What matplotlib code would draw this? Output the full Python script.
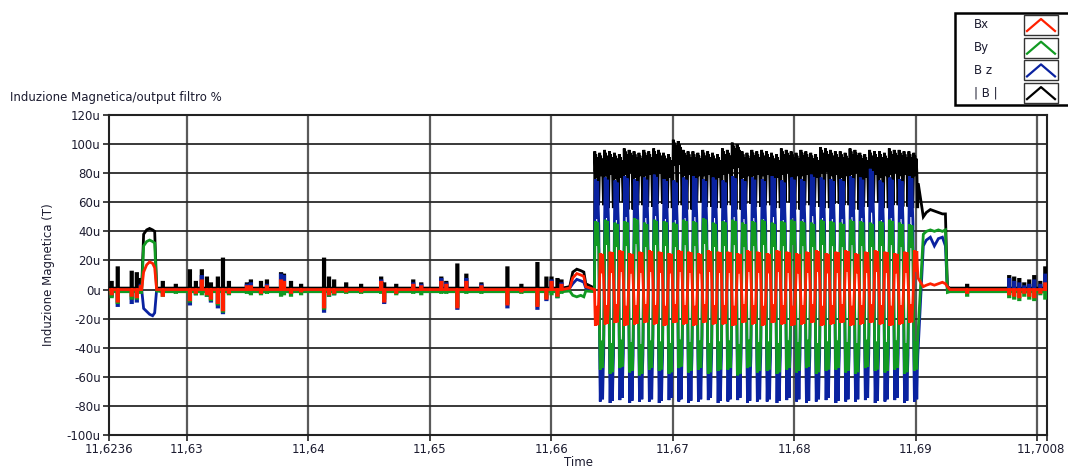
import numpy as np
import matplotlib
matplotlib.use("Agg")
import matplotlib.pyplot as plt
from matplotlib.patches import Rectangle
from matplotlib.ticker import FixedLocator, FuncFormatter
from matplotlib.transforms import ScaledTranslation

# ---- data (values in micro tesla, time in seconds) ----
t_start, t_end = 11.6236, 11.7008

# quiet part: short spikes (time, |B|, Bx, By, Bz)
spike_t = [11.62376, 11.62426, 11.62541, 11.62583, 11.62616, 11.62797, 11.62904,
           11.63020, 11.63069, 11.63118, 11.63160, 11.63193, 11.63250, 11.63292,
           11.63341, 11.63489, 11.63522, 11.63605, 11.63654, 11.63770, 11.63794,
           11.63852, 11.63935, 11.64124, 11.64165, 11.64207, 11.64306, 11.64429,
           11.64594, 11.64619, 11.64718, 11.64858, 11.64924, 11.65089, 11.65130,
           11.65221, 11.65295, 11.65419, 11.65633, 11.65748, 11.65880, 11.65954,
           11.65996, 11.66045, 11.66078,
           11.69417, 11.69763, 11.69804, 11.69846, 11.69887, 11.69928, 11.69969,
           11.70019, 11.70060]
spike_b = [5, 15, 12, 11, 7, 5, 3, 13, 5, 13, 8, 4, 8, 21, 5, 4, 6, 5, 6, 11, 10,
           5, 3, 21, 8, 6, 4, 3, 8, 4, 3, 6, 4, 8, 5, 17, 10, 4, 15, 3, 18, 8, 8, 7, 6,
           3, 9, 8, 7, 4, 6, 9, 5, 15]
spike_bx = [-3, -8, -4, -5, 2, -4, 0, -7, -2, 6, -3, -6, -9, -14, -2, 2, 2, -2, 2, 6, 5,
            -2, -1, -12, -3, -2, -1, -1, 5, -8, -2, 3, 2, 5, 3, -12, 5, 2, -10, -1, -11, -6, 5, -4, 3,
            -2, -3, -4, -5, -2, -4, -5, -2, 4]
spike_by = [-5, -9, -6, -6, -2, -4, -2, -8, -3, -3, -4, -7, -10, -15, -3, -2, -3, -3, -2, -4, -3,
            -4, -3, -13, -4, -3, -2, -2, -2, -6, -3, -2, -3, -2, -2, -11, -2, -2, -9, -2, -10, -5, -3, -5, -2,
            -4, -5, -6, -7, -4, -6, -7, -3, -6]
spike_bz = [-4, -11, -9, -8, 3, -2, 0, -10, -3, 9, -4, -8, -12, -16, -2, 3, 4, -2, 3, 10, 9,
            -2, -1, -15, -4, -3, -1, -1, 6, -9, -2, 4, 3, 7, 4, -13, 7, 3, -12, -1, -13, -7, 6, -5, 4,
            -1, 7, 5, 4, 2, 3, 6, 3, 10]

# first pulse around 11.6266
ev1_t = [11.62629, 11.62645, 11.62670, 11.62694, 11.62719, 11.62736, 11.62752]
ev1_b = [1, 38, 41, 42, 41, 40, 1]
ev1_bx = [0, 12, 17, 19, 18, 15, 0]
ev1_by = [-1, 30, 33, 34, 33, 32, -1]
ev1_bz = [0, -13, -15, -17, -18, -16, 0]

# small bump before the oscillation
ev2_t = [11.66152, 11.66177, 11.66210, 11.66243, 11.66268, 11.66284]
ev2_b = [2, 12, 14, 13, 12, 4]
ev2_bx = [1, 8, 11, 10, 9, 2]
ev2_by = [-1, -4, -5, -4, -5, -1]
ev2_bz = [1, 4, 7, 6, 5, 1]

# oscillating part: extremes of every cycle
osc_t0 = 11.66358
osc_period = 0.000808
bz_hi = [76, 77, 75, 78, 76, 77, 79, 76, 75, 77, 78, 76, 77, 75, 78, 76, 77,
         76, 78, 75, 77, 76, 79, 77, 76, 76, 78, 77, 83, 75, 77, 76, 78]
bz_lo = [-77, -78, -76, -78, -77, -77, -78, -76, -77, -78, -77, -76, -78, -77, -76, -78, -77,
         -77, -78, -76, -77, -78, -77, -76, -78, -77, -77, -76, -78, -77, -76, -78, -77]
by_hi = [47, 48, 46, 47, 49, 46, 48, 47, 46, 48, 47, 49, 46, 47, 48, 46, 47,
         48, 46, 47, 48, 47, 46, 48, 47, 46, 48, 47, 46, 47, 48, 46, 45]
by_lo = [-55, -58, -54, -57, -59, -55, -56, -58, -54, -57, -55, -58, -56, -55, -59, -54, -57,
         -56, -58, -55, -57, -54, -58, -56, -55, -57, -58, -54, -56, -57, -55, -58, -56]
bx_hi = [25, 26, 27, 25, 26, 27, 26, 25, 27, 26, 25, 27, 26, 26, 25, 27, 26,
         25, 27, 26, 25, 26, 27, 25, 26, 27, 25, 26, 27, 26, 25, 26, 27]
bx_lo = [-25, -24, -23, -25, -24, -23, -24, -25, -23, -24, -25, -23, -24, -24, -25, -23, -24,
         -25, -23, -24, -25, -24, -23, -25, -24, -23, -25, -24, -23, -24, -25, -24, -23]
b_hi = [95, 96, 94, 97, 95, 96, 97, 94, 103, 96, 95, 96, 94, 97, 101, 95, 96,
        96, 94, 97, 95, 96, 94, 98, 96, 95, 97, 94, 96, 95, 97, 96, 95]
b_lo = [58, 56, 60, 55, 58, 57, 59, 56, 58, 55, 60, 57, 56, 58, 55, 59, 57,
        58, 56, 60, 55, 58, 57, 56, 59, 58, 55, 57, 60, 56, 58, 57, 56]

# pulse after the oscillation
ev3_t = [11.69062, 11.69087, 11.69120, 11.69153, 11.69186, 11.69219, 11.69244, 11.69260]
ev3_b = [50, 53, 55, 54, 53, 52, 52, 2]
ev3_bx = [2, 3, 4, 3, 4, 5, 4, 2]
ev3_by = [38, 40, 41, 40, 41, 40, 41, -2]
ev3_bz = [30, 34, 36, 30, 35, 36, 30, -1]

base_b, base_bx, base_by, base_bz = 1, 0, -1.5, -0.5

# ---- helpers to assemble the traces ----
spike_w = 0.00012
half_frac = [0.0, 0.06, 0.12, 0.18, 0.24, 0.30, 0.36, 0.41]
half_shape = [0.6, 1.0, 0.7, 0.96, 0.64, 0.98, 0.72, 0.58]
red_shape = [0.35, 1.0, 0.55, 0.95, 0.45, 0.98, 0.6, 0.3]
mag_frac = [0.0, 0.05, 0.1, 0.16, 0.24, 0.31, 0.39, 0.45, 0.5, 0.55,
            0.6, 0.66, 0.74, 0.81, 0.89, 0.95]
mag_drop = [0, 14, 2, 18, 4, 16, None, 20, 1, 12, 3, 17, 5, 15, None, 22]


def quiet(t0, t1, base, amps, events):
    pts = [(t0, base)]
    for t, a in zip(spike_t, amps):
        if t0 <= t < t1:
            pts += [(t, base), (t, a), (t + spike_w, a), (t + spike_w, base)]
    for et, ev in events:
        if t0 <= et[0] < t1:
            pts += list(zip(et, ev))
    pts.sort(key=lambda p: p[0])
    pts.append((t1, base))
    return pts


def oscill(hi, lo, shape, flip=False):
    pts = []
    for i, (h, l) in enumerate(zip(hi, lo)):
        first, second = (l, h) if flip else (h, l)
        for off, ext in ((0.0, first), (0.5, second)):
            for f, s in zip(half_frac, shape):
                pts.append((osc_t0 + (i + off + f) * osc_period, ext * s))
    return pts


def magn(hi, lo):
    pts = []
    for i, (h, l) in enumerate(zip(hi, lo)):
        for f, d in zip(mag_frac, mag_drop):
            pts.append((osc_t0 + (i + f) * osc_period, l if d is None else h - d))
    return pts


tail0 = ev3_t[-1] + 0.0002


def trace(base, amps, e1, e2, e3, osc):
    pts = quiet(t_start, osc_t0 - 0.00002, base, amps, [(ev1_t, e1), (ev2_t, e2)])
    pts += osc
    pts += list(zip(ev3_t, e3))
    pts += quiet(tail0, t_end, base, amps, [])
    t, v = zip(*pts)
    return np.array(t), np.array(v)


traces = {
    "|B|": trace(base_b, spike_b, ev1_b, ev2_b, ev3_b, magn(b_hi, b_lo)),
    "Bz": trace(base_bz, spike_bz, ev1_bz, ev2_bz, ev3_bz, oscill(bz_hi, bz_lo, half_shape)),
    "By": trace(base_by, spike_by, ev1_by, ev2_by, ev3_by, oscill(by_hi, by_lo, half_shape)),
    "Bx": trace(base_bx, spike_bx, ev1_bx, ev2_bx, ev3_bx,
                oscill(bx_hi, bx_lo, red_shape, flip=True)),
}
colors = {"Bx": "#ff2000", "By": "#119a22", "Bz": "#0a22a0", "|B|": "#000000"}

# ---- figure ----
W, H = 1068, 471
fig = plt.figure(figsize=(W / 100, H / 100), dpi=100)
fig.patch.set_facecolor("white")
ax = fig.add_axes([109 / W, (H - 435) / H, 938 / W, 320 / H])

for name in ["|B|", "Bz", "By", "Bx"]:
    t, v = traces[name]
    ax.plot(t, v, color=colors[name], lw=2.0, solid_joinstyle="miter", zorder=3)

ax.set_xlim(t_start, t_end)
ax.set_ylim(-100, 120)

xt_grid = [11.63, 11.64, 11.65, 11.66, 11.67, 11.68, 11.69, 11.70]
for x in xt_grid:
    ax.axvline(x, color="#5a5a5a", lw=1.6, zorder=1)
for y in range(-80, 121, 20):
    ax.axhline(y, color="#2a2a2a", lw=1.3, zorder=1)

xt = [t_start] + xt_grid + [t_end]
xl = ["11,6236", "11,63", "11,64", "11,65", "11,66", "11,67", "11,68", "11,69", "", "11,7008"]
ax.xaxis.set_major_locator(FixedLocator(xt))
ax.set_xticklabels(xl)
ax.yaxis.set_major_locator(FixedLocator(list(range(-100, 121, 20))))
ax.yaxis.set_major_formatter(FuncFormatter(lambda v, p: f"{int(v)}u"))
ax.tick_params(axis="both", direction="out", length=4, width=1.2, color="#222222",
               labelsize=8.5, labelcolor="#1c1c30", pad=2)
# last label sits a bit left so that it stays inside the picture
last = ax.get_xticklabels()[-1]
last.set_transform(last.get_transform() + ScaledTranslation(-6 / 100, 0, fig.dpi_scale_trans))

for s in ax.spines.values():
    s.set_color("#222222")
    s.set_linewidth(1.5)

ax.set_xlabel("Time", fontsize=8.5, color="#1c1c30", labelpad=0)
ax.set_ylabel("Induzione Magnetica (T)", fontsize=8.5, color="#1c1c30", labelpad=8)
fig.text(10 / W, 1 - 97 / H, "Induzione Magnetica/output filtro %", fontsize=8.5,
         color="#1c1c30", va="center", ha="left")

# ---- legend box drawn in pixel space ----
lg = fig.add_axes([0, 0, 1, 1], zorder=10)
lg.set_xlim(0, W)
lg.set_ylim(H, 0)
lg.axis("off")
lg.add_patch(Rectangle((955, 13), 130, 92, fill=True, facecolor="white",
                       edgecolor="black", lw=1.8))
leg_names = ["Bx", "By", "B z", "| B |"]
leg_keys = ["Bx", "By", "Bz", "|B|"]
for i, (lab, key) in enumerate(zip(leg_names, leg_keys)):
    yc = 25 + i * 22.7
    lg.text(974, yc, lab, fontsize=8.5, color="#1c1c30", va="center", ha="left")
    lg.add_patch(Rectangle((1024, yc - 10), 34, 20, fill=False, edgecolor="#333333", lw=1.0))
    lg.plot([1027, 1041, 1055], [yc + 6, yc - 6, yc + 6], color=colors[key], lw=1.6)

fig.savefig("out.png", dpi=100)
